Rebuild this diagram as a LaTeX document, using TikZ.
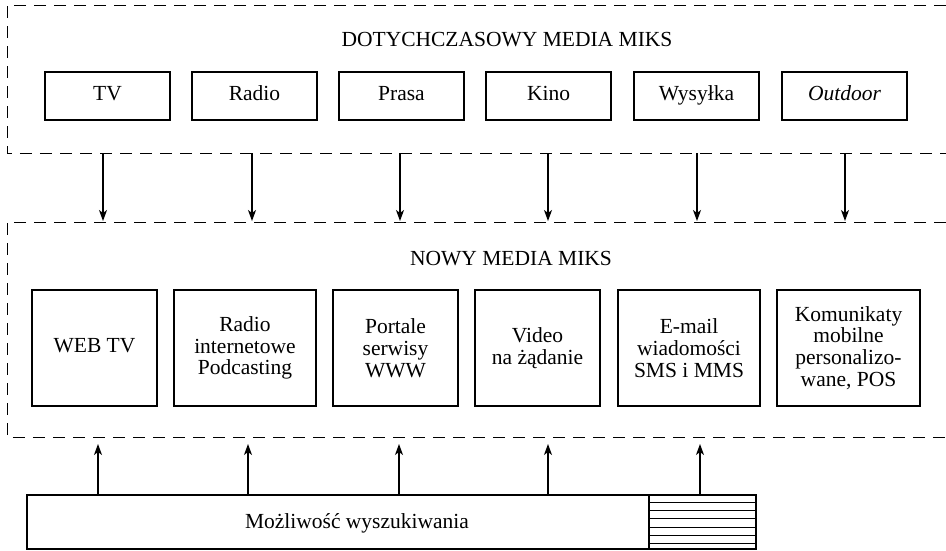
\documentclass[tikz,border=0pt]{standalone}
\usepackage{fontspec}
\setmainfont{Liberation Serif}
\usetikzlibrary{arrows.meta}
\begin{document}
\begin{tikzpicture}[x=1pt,y=-1pt,
  txt/.style={font=\fontsize{21.5pt}{21.7pt}\selectfont, inner sep=0pt},
  topbox/.style={txt, draw, line width=1.2pt, minimum width=125pt, minimum height=48pt, text height=14pt, text depth=6pt},
  newbox/.style={txt, draw, line width=1.2pt, minimum height=116pt, align=center},
  container/.style={line width=1pt, dash pattern=on 12pt off 8pt},
  conn/.style={line width=1.1pt, -{Stealth[length=11pt,width=8pt,inset=3pt]}}
]
\useasboundingbox (0,0) rectangle (946,550);

% containers (open on the right)
\draw[container] (946,5) -- (7,5) -- (7,153) -- (946,153);
\draw[container] (946,222) -- (7,222) -- (7,437) -- (946,437);

% titles
\node[txt, anchor=base] (title1) at (507,46) {DOTYCHCZASOWY MEDIA MIKS};
\node[txt, anchor=base] (title2) at (511,265) {NOWY MEDIA MIKS};

% old media
\node[topbox] (tv) at (107.5,96) {TV};
\node[topbox] (radio) at (254.5,96) {Radio};
\node[topbox] (prasa) at (401.5,96) {Prasa};
\node[topbox] (kino) at (548.5,96) {Kino};
\node[topbox] (wys) at (696.5,96) {Wysyłka};
\node[topbox] (out) at (844.5,96) {\textit{Outdoor}};

% new media
\node[newbox, minimum width=125pt, text height=14pt, text depth=6pt] (web) at (94.5,348) {WEB TV};
\node[newbox, minimum width=142pt] (irad) at (245,348) {Radio\\internetowe\\Podcasting};
\node[newbox, minimum width=125pt] (port) at (395.5,348) {Portale\\serwisy\\WWW};
\node[newbox, minimum width=125pt] (vid) at (537.5,348) {Video\\na żądanie};
\node[newbox, minimum width=142pt] (mail) at (689,348) {E-mail\\wiadomości\\SMS i MMS};
\node[newbox, minimum width=143pt] (mob) at (848.5,348) {Komunikaty\\mobilne\\personalizo-\\wane, POS};

% search box
\node[draw, line width=1.2pt, minimum width=622pt, minimum height=54pt, inner sep=0pt] (search) at (338,522) {};
\node[txt, anchor=base] (searchtxt) at (357,528) {Możliwość wyszukiwania};
\node[draw, line width=1.2pt, minimum width=107pt, minimum height=54pt, inner sep=0pt] (hatch) at (702.5,522) {};
\foreach \yy in {502,510,518.5,527,535,543}
  \draw[line width=0.8pt] (hatch.west |- 0,\yy) -- (hatch.east |- 0,\yy);

% arrows from old to new
\foreach \n/\xx in {1/103,2/252,3/400,4/548,5/697,6/845}{
  \coordinate (ts\n) at (\xx,153);
  \coordinate (te\n) at (\xx,221);
  \draw[conn] (ts\n) -- (te\n);
}
% arrows from search up
\foreach \n/\xx in {1/98,2/248,3/399,4/548,5/700}{
  \coordinate (bs\n) at (\xx,495);
  \coordinate (be\n) at (\xx,444);
  \draw[conn] (bs\n) -- (be\n);
}
\end{tikzpicture}
\end{document}
